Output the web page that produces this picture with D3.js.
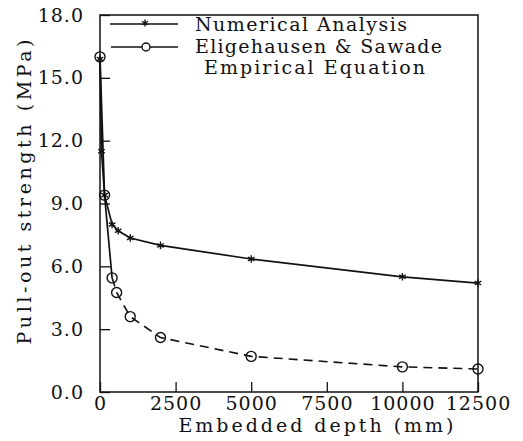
<!DOCTYPE html>
<html>
<head>
<meta charset="utf-8">
<script src="https://cdn.jsdelivr.net/npm/d3@7"></script>
<style>
  body { margin: 0; background: #fff; }
  svg text { font-family: "DejaVu Serif", serif; fill: #111; }
</style>
</head>
<body>
<svg id="chart" width="523" height="441"></svg>
<script>
// data
const numDepth = [0, 50, 150, 400, 600, 1000, 2000, 5000, 10000, 12500];
const numStrength = [15.9, 11.5, 9.4, 8.0, 7.7, 7.35, 7.0, 6.35, 5.5, 5.2];

const empDepth = [0, 150, 400, 550, 1000, 2000, 5000, 10000, 12500];
const empStrength = [16.0, 9.4, 5.45, 4.75, 3.6, 2.6, 1.7, 1.2, 1.1];
const empSolidCount = 3; // first segments drawn solid, rest dashed

const xTicks = [0, 2500, 5000, 7500, 10000, 12500];
const yTicks = [0, 3, 6, 9, 12, 15, 18];

const legendLabels = ['Numerical Analysis', 'Eligehausen & Sawade', 'Empirical Equation'];

const margin = { left: 100, top: 15, right: 45, bottom: 49 };
const width = 523, height = 441;

const svg = d3.select('#chart');

const x = d3.scaleLinear().domain([0, 12500]).range([margin.left, width - margin.right]);
const y = d3.scaleLinear().domain([0, 18]).range([height - margin.bottom, margin.top]);

const ink = '#111';

// frame
svg.append('rect')
    .attr('x', x(0)).attr('y', y(18))
    .attr('width', x(12500) - x(0)).attr('height', y(0) - y(18))
    .attr('fill', 'none').attr('stroke', ink).attr('stroke-width', 1.5);

// axes, ticks pointing inward
const yAxis = svg.append('g')
    .attr('transform', `translate(${x(0)},0)`)
    .call(d3.axisLeft(y).tickValues(yTicks).tickSize(-10).tickPadding(16).tickFormat(d3.format('.1f')));

const xAxis = svg.append('g')
    .attr('transform', `translate(0,${y(0)})`)
    .call(d3.axisBottom(x).tickValues(xTicks).tickSize(-10).tickPadding(5).tickFormat(d => d));

[xAxis, yAxis].forEach(g => {
    g.select('.domain').remove();
    g.selectAll('.tick line').attr('stroke', ink).attr('stroke-width', 1.3);
    g.selectAll('.tick text')
        .style('font-family', '"DejaVu Serif", serif')
        .style('font-size', '19px')
        .attr('letter-spacing', 1)
        .attr('fill', ink);
});

// axis titles
svg.append('text')
    .attr('x', 316).attr('y', 432)
    .attr('text-anchor', 'middle')
    .attr('textLength', 275).attr('lengthAdjust', 'spacing')
    .style('font-size', '19px')
    .text('Embedded depth (mm)');

svg.append('text')
    .attr('transform', 'translate(31,192) rotate(-90)')
    .attr('text-anchor', 'middle')
    .attr('textLength', 305).attr('lengthAdjust', 'spacing')
    .style('font-size', '19px')
    .text('Pull-out strength (MPa)');

// series
const line = d3.line().x(d => x(d[0])).y(d => y(d[1]));
const numPts = numDepth.map((d, i) => [d, numStrength[i]]);
const empPts = empDepth.map((d, i) => [d, empStrength[i]]);

svg.append('path')
    .datum(numPts)
    .attr('d', line)
    .attr('fill', 'none').attr('stroke', ink).attr('stroke-width', 1.7);

svg.append('path')
    .datum(empPts.slice(0, empSolidCount))
    .attr('d', line)
    .attr('fill', 'none').attr('stroke', ink).attr('stroke-width', 1.7);

svg.append('path')
    .datum(empPts.slice(empSolidCount - 1))
    .attr('d', line)
    .attr('fill', 'none').attr('stroke', ink).attr('stroke-width', 1.6)
    .attr('stroke-dasharray', '9,6');

function starPath(s) {
    const a = s * 0.866, b = s * 0.5;
    return `M0,${-s}L0,${s}M${-a},${-b}L${a},${b}M${-a},${b}L${a},${-b}`;
}

svg.append('g').selectAll('path')
    .data(numPts)
    .join('path')
    .attr('transform', d => `translate(${x(d[0])},${y(d[1])})`)
    .attr('d', starPath(3.8))
    .attr('stroke', ink).attr('stroke-width', 1.4).attr('fill', 'none');

svg.append('g').selectAll('circle')
    .data(empPts)
    .join('circle')
    .attr('cx', d => x(d[0])).attr('cy', d => y(d[1]))
    .attr('r', 5)
    .attr('fill', 'none').attr('stroke', ink).attr('stroke-width', 1.4);

// legend
const legend = svg.append('g');
legend.append('line')
    .attr('x1', 110).attr('x2', 178).attr('y1', 24).attr('y2', 24)
    .attr('stroke', ink).attr('stroke-width', 1.6);
legend.append('path')
    .attr('transform', 'translate(145,23)')
    .attr('d', starPath(3.5))
    .attr('stroke', ink).attr('stroke-width', 1.4);
legend.append('line')
    .attr('x1', 111).attr('x2', 178).attr('y1', 47).attr('y2', 47)
    .attr('stroke', ink).attr('stroke-width', 1.6);
legend.append('circle')
    .attr('cx', 146).attr('cy', 47).attr('r', 4)
    .attr('fill', '#fff').attr('stroke', ink).attr('stroke-width', 1.4);

const legendPos = [
    { x: 195, y: 31, len: 212 },
    { x: 195, y: 53, len: 247 },
    { x: 204, y: 74, len: 221 }
];
legend.selectAll('text')
    .data(legendLabels)
    .join('text')
    .attr('x', (d, i) => legendPos[i].x)
    .attr('y', (d, i) => legendPos[i].y)
    .attr('textLength', (d, i) => legendPos[i].len)
    .attr('lengthAdjust', 'spacing')
    .style('font-size', '19px')
    .text(d => d);
</script>
</body>
</html>
